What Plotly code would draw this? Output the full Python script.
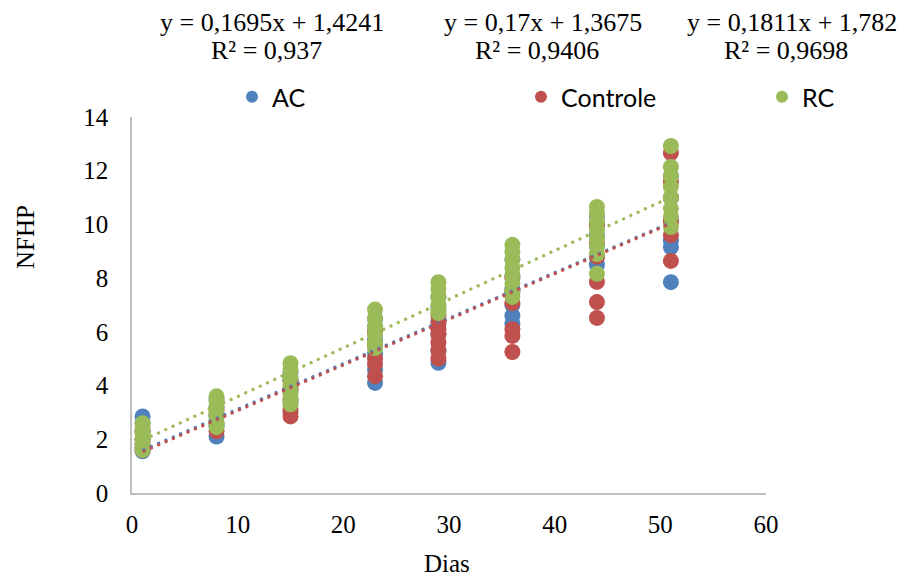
import plotly.graph_objects as go

days = [1, 8, 15, 23, 29, 36, 44, 51]

ac_values = [
    [2.85, 2.6, 2.3, 2.0, 1.7, 1.55],
    [2.1, 2.5, 2.9, 3.2, 3.5],
    [3.0, 3.4, 3.8, 4.2, 4.5],
    [4.1, 4.6, 5.2, 5.7, 6.2, 6.5],
    [4.85, 5.3, 5.9, 6.4, 6.9, 7.3],
    [6.3, 6.6, 7.0, 7.6, 8.1, 8.7],
    [8.5, 8.8, 9.2, 9.6, 10.0, 10.3],
    [7.85, 9.15, 9.4, 10.2, 11.0, 11.8],
]
controle_values = [
    [2.3, 2.0, 1.8, 1.6],
    [2.3, 2.6, 2.9, 3.1],
    [2.85, 3.1, 3.5, 3.9, 4.2],
    [4.35, 4.8, 5.0, 5.5, 6.0],
    [5.0, 5.3, 5.6, 5.9, 6.1, 6.3, 6.6],
    [5.25, 5.85, 6.1, 7.07, 7.5, 8.0],
    [6.52, 7.11, 7.86, 8.8, 9.3, 10.0],
    [8.64, 9.6, 10.1, 11.0, 11.6, 12.66],
]
rc_values = [
    [2.6, 2.4, 2.2, 2.0, 1.8, 1.6],
    [3.6, 3.4, 3.2, 3.0, 2.8, 2.6, 2.45],
    [4.83, 4.6, 4.3, 4.0, 3.7, 3.45, 3.3],
    [6.83, 6.5, 6.2, 5.9, 5.6, 5.4],
    [7.85, 7.6, 7.3, 7.0, 6.8, 6.7],
    [9.24, 9.0, 8.7, 8.4, 8.1, 7.8, 7.5, 7.3],
    [10.65, 10.4, 10.1, 9.8, 9.5, 9.2, 8.9, 8.16],
    [12.92, 12.14, 11.8, 11.4, 11.0, 10.6, 10.3, 9.9],
]

series_names = ["AC", "Controle", "RC"]
series_colors = ["#4F81BD", "#C0504D", "#9BBB59"]
trend_slopes = [0.1695, 0.17, 0.1811]
trend_intercepts = [1.4241, 1.3675, 1.782]
equation_texts = ["y = 0,1695x + 1,4241", "y = 0,17x + 1,3675", "y = 0,1811x + 1,782"]
r2_texts = ["R² = 0,937", "R² = 0,9406", "R² = 0,9698"]

all_values = [ac_values, controle_values, rc_values]

serif = "Liberation Serif"
fig = go.Figure()

# scatter points
for name, color, vals in zip(series_names, series_colors, all_values):
    xs, ys = [], []
    for d, col in zip(days, vals):
        for v in col:
            xs.append(d)
            ys.append(v)
    fig.add_trace(go.Scatter(x=xs, y=ys, mode="markers", name=name, showlegend=False,
                             marker=dict(color=color, size=16, line=dict(width=0))))

# trendlines
for color, m, b in zip(series_colors, trend_slopes, trend_intercepts):
    xl = [days[0], days[-1]]
    yl = [m * x + b for x in xl]
    fig.add_trace(go.Scatter(x=xl, y=yl, mode="lines", showlegend=False, hoverinfo="skip",
                             line=dict(color=color, width=3, dash="3px,5px")))

# legend entries (separate legends)
legend_x = [232, 521, 762]
legend_keys = ["legend", "legend2", "legend3"]
for name, color, key in zip(series_names, series_colors, legend_keys):
    fig.add_trace(go.Scatter(x=[None], y=[None], mode="markers", name=name, legend=key,
                             marker=dict(color=color, size=12)))

legend_common = dict(xref="container", yref="container", xanchor="left", yanchor="middle",
                     bgcolor="rgba(0,0,0,0)", font=dict(family="Lato", size=25, color="#000"),
                     itemwidth=30)
for key, lx in zip(legend_keys, legend_x):
    fig.update_layout({key: dict(x=lx / 903, y=1 - 97 / 578, **legend_common)})

PW = 766 - 132
PH = 493 - 117
eq_centers = [272, 543, 792]
for cx, eq, r2 in zip(eq_centers, equation_texts, r2_texts):
    fig.add_annotation(xref="paper", yref="paper", x=(cx - 132) / PW, y=1 + (117 - 22) / PH,
                       text=eq, showarrow=False, font=dict(family=serif, size=26, color="#000"),
                       xanchor="center", yanchor="middle")
    fig.add_annotation(xref="paper", yref="paper", x=(cx - 6 - 132) / PW, y=1 + (117 - 50) / PH,
                       text=r2, showarrow=False, font=dict(family=serif, size=26, color="#000"),
                       xanchor="center", yanchor="middle")

fig.add_annotation(xref="paper", yref="paper", x=(447 - 132) / PW, y=-(563 - 493) / PH,
                   text="Dias", showarrow=False, font=dict(family=serif, size=25, color="#000"),
                   xanchor="center", yanchor="middle")
fig.add_annotation(xref="paper", yref="paper", x=-(132 - 25) / PW, y=(493 - 237) / PH,
                   text="NFHP", showarrow=False, textangle=-90,
                   font=dict(family=serif, size=25, color="#000"),
                   xanchor="center", yanchor="middle")

fig.update_layout(
    width=903, height=578,
    font=dict(family=serif, size=25, color="#000"),
    margin=dict(l=132, r=137, t=117, b=85, autoexpand=False),
    plot_bgcolor="white", paper_bgcolor="white",
    xaxis=dict(range=[0, 60], dtick=10, showgrid=False, zeroline=False, showline=True,
               linecolor="#BFBFBF", linewidth=1.5, ticks="", ticklabelstandoff=8,
               tickangle=0, automargin=False,
               tickfont=dict(family=serif, size=25, color="#000")),
    yaxis=dict(range=[0, 14], dtick=2, showgrid=False, zeroline=False, showline=True,
               linecolor="#BFBFBF", linewidth=1.5, ticks="", ticklabelstandoff=17,
               automargin=False,
               tickfont=dict(family=serif, size=25, color="#000")),
)

fig.write_html("out.html")
